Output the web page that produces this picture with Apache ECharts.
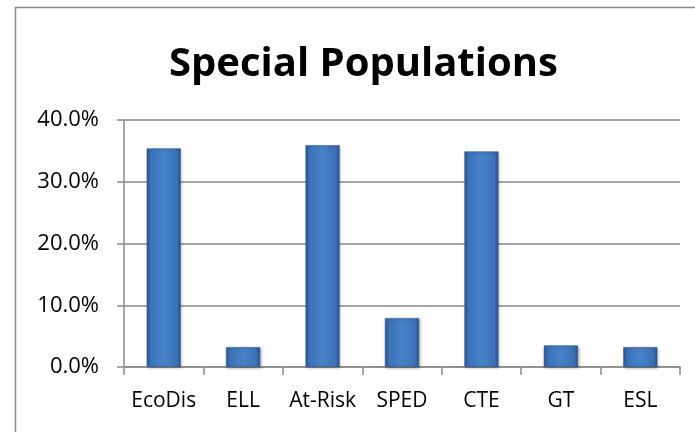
<!DOCTYPE html>
<html><head><meta charset="utf-8">
<script src="https://cdn.jsdelivr.net/npm/echarts@6/dist/echarts.min.js"></script>
<style>html,body{margin:0;padding:0;background:#fff}#c{width:695px;height:432px}</style>
</head><body><div id="c"></div>
<script>
const categories = ["EcoDis", "ELL", "At-Risk", "SPED", "CTE", "GT", "ESL"];
const values = [35.4, 3.2, 35.9, 7.9, 34.9, 3.5, 3.2];
const yTicks = [0, 10, 20, 30, 40];

const chart = echarts.init(document.getElementById('c'), null, {renderer: 'canvas'});
const barColor = new echarts.graphic.LinearGradient(0, 0, 1, 0, [
  {offset: 0, color: '#2c5a93'},
  {offset: 0.12, color: '#3c72b6'},
  {offset: 0.5, color: '#4782c9'},
  {offset: 0.88, color: '#3c72b6'},
  {offset: 1, color: '#2a5590'}
]);
chart.setOption({
  animation: false,
  title: {
    text: 'Special Populations', left: 164, top: 40,
    textStyle: {fontFamily: 'Open Sans', fontWeight: 'bold', fontSize: 40, color: '#000'}
  },
  graphic: [{type: 'rect', shape: {x: 15.5, y: 7.5, width: 720, height: 460},
    style: {fill: 'none', stroke: '#8a8a8a', lineWidth: 1.5}, z: 0}],
  grid: {left: 124, right: 15, top: 120, bottom: 65, containLabel: false},
  xAxis: {
    type: 'category', data: categories,
    axisLine: {lineStyle: {color: '#8a8a8a', width: 1.5}},
    axisTick: {show: true, length: 8, lineStyle: {color: '#8a8a8a', width: 1.5}},
    axisLabel: {fontFamily: 'Open Sans', fontSize: 21, color: '#000', margin: 24,
      interval: 0, hideOverlap: false}
  },
  yAxis: {
    type: 'value', min: 0, max: 40, interval: 10,
    axisLine: {show: true, lineStyle: {color: '#8a8a8a', width: 1.5}},
    axisTick: {show: true, length: 7, lineStyle: {color: '#8a8a8a', width: 1.5}},
    splitLine: {lineStyle: {color: '#8a8a8a', width: 1.5}},
    axisLabel: {fontFamily: 'Open Sans', fontSize: 22, color: '#000', margin: 25,
      formatter: v => yTicks.includes(v) ? v.toFixed(1) + '%' : ''}
  },
  series: [{
    type: 'bar', data: values, barWidth: 34,
    itemStyle: {color: barColor, borderColor: '#28508a', borderWidth: 0.5,
      shadowColor: 'rgba(0,0,0,0.35)', shadowBlur: 3, shadowOffsetX: 1, shadowOffsetY: 1}
  }]
});
</script></body></html>
